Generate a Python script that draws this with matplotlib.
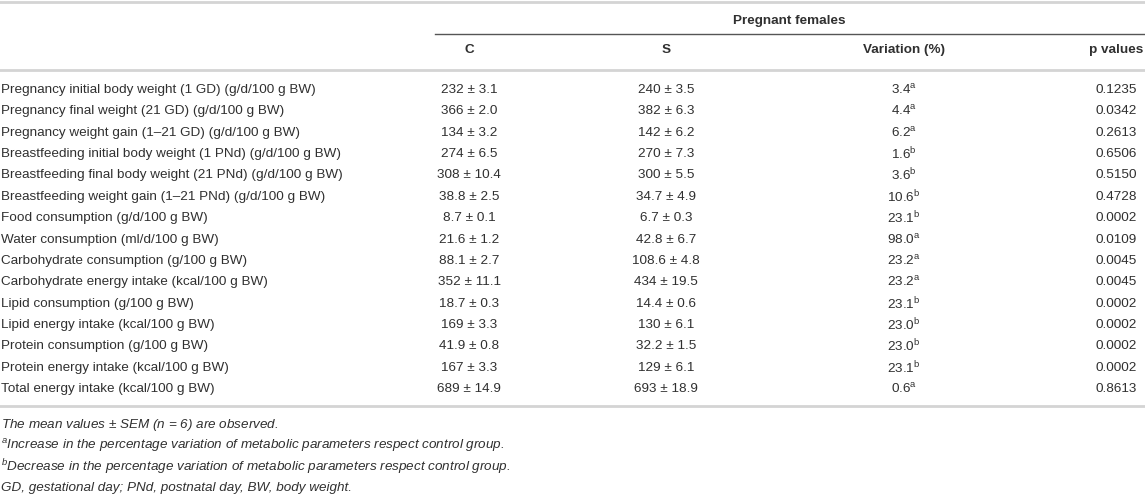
import matplotlib
matplotlib.use("Agg")
import matplotlib.pyplot as plt

plt.rcParams['font.family'] = ['Liberation Sans', 'DejaVu Sans']
plt.rcParams['mathtext.fontset'] = 'custom'
plt.rcParams['mathtext.rm'] = 'Liberation Sans'
plt.rcParams['mathtext.it'] = 'Liberation Sans:italic'

# table data
group_title = "Pregnant females"
col_heads = ["C", "S", "Variation (%)", "p values"]
row_labels = [
    "Pregnancy initial body weight (1 GD) (g/d/100 g BW)",
    "Pregnancy final weight (21 GD) (g/d/100 g BW)",
    "Pregnancy weight gain (1\u201321 GD) (g/d/100 g BW)",
    "Breastfeeding initial body weight (1 PNd) (g/d/100 g BW)",
    "Breastfeeding final body weight (21 PNd) (g/d/100 g BW)",
    "Breastfeeding weight gain (1\u201321 PNd) (g/d/100 g BW)",
    "Food consumption (g/d/100 g BW)",
    "Water consumption (ml/d/100 g BW)",
    "Carbohydrate consumption (g/100 g BW)",
    "Carbohydrate energy intake (kcal/100 g BW)",
    "Lipid consumption (g/100 g BW)",
    "Lipid energy intake (kcal/100 g BW)",
    "Protein consumption (g/100 g BW)",
    "Protein energy intake (kcal/100 g BW)",
    "Total energy intake (kcal/100 g BW)",
]
c_vals = ["232 \u00b1 3.1", "366 \u00b1 2.0", "134 \u00b1 3.2", "274 \u00b1 6.5",
          "308 \u00b1 10.4", "38.8 \u00b1 2.5", "8.7 \u00b1 0.1", "21.6 \u00b1 1.2",
          "88.1 \u00b1 2.7", "352 \u00b1 11.1", "18.7 \u00b1 0.3", "169 \u00b1 3.3",
          "41.9 \u00b1 0.8", "167 \u00b1 3.3", "689 \u00b1 14.9"]
s_vals = ["240 \u00b1 3.5", "382 \u00b1 6.3", "142 \u00b1 6.2", "270 \u00b1 7.3",
          "300 \u00b1 5.5", "34.7 \u00b1 4.9", "6.7 \u00b1 0.3", "42.8 \u00b1 6.7",
          "108.6 \u00b1 4.8", "434 \u00b1 19.5", "14.4 \u00b1 0.6", "130 \u00b1 6.1",
          "32.2 \u00b1 1.5", "129 \u00b1 6.1", "693 \u00b1 18.9"]
variation = ["3.4", "4.4", "6.2", "1.6", "3.6", "10.6", "23.1", "98.0",
             "23.2", "23.2", "23.1", "23.0", "23.0", "23.1", "0.6"]
var_mark = ["a", "a", "a", "b", "b", "b", "b", "a",
            "a", "a", "b", "b", "b", "b", "a"]
p_vals = ["0.1235", "0.0342", "0.2613", "0.6506", "0.5150", "0.4728", "0.0002",
          "0.0109", "0.0045", "0.0045", "0.0002", "0.0002", "0.0002", "0.0002",
          "0.8613"]
notes = [
    r"The mean values $\pm$ SEM (n = 6) are observed.",
    r"$^{a}$Increase in the percentage variation of metabolic parameters respect control group.",
    r"$^{b}$Decrease in the percentage variation of metabolic parameters respect control group.",
    "GD, gestational day; PNd, postnatal day, BW, body weight.",
]

W, H = 1145, 495
fig = plt.figure(figsize=(W / 100, H / 100), dpi=100)
ax = fig.add_axes([0, 0, 1, 1])
ax.set_xlim(0, W)
ax.set_ylim(H, 0)
ax.axis('off')

txt = '#303030'
rule = '#d4d4d4'
fs = 9.7

# rules
ax.plot([0, W], [2, 2], color=rule, lw=2)
ax.plot([435, W], [34, 34], color='#555555', lw=1)
ax.plot([0, W], [70, 70], color=rule, lw=2)
ax.plot([0, W], [406, 406], color=rule, lw=2)

col_x = [469, 666, 904, 1116]

ax.text(789, 21, group_title, ha='center', va='center', fontsize=fs,
        fontweight='bold', color=txt)
for x, h in zip(col_x, col_heads):
    ax.text(x, 50, h, ha='center', va='center', fontsize=fs,
            fontweight='bold', color=txt)

y0, dy = 90, 21.36
for i, lab in enumerate(row_labels):
    y = y0 + i * dy
    ax.text(1, y, lab, ha='left', va='center', fontsize=fs, color=txt)
    ax.text(col_x[0], y, c_vals[i], ha='center', va='center', fontsize=fs, color=txt)
    ax.text(col_x[1], y, s_vals[i], ha='center', va='center', fontsize=fs, color=txt)
    ax.text(col_x[2], y, variation[i] + r"$^{\mathregular{" + var_mark[i] + "}}$",
            ha='center', va='center', fontsize=fs, color=txt)
    ax.text(col_x[3], y, p_vals[i], ha='center', va='center', fontsize=fs, color=txt)

for j, n in enumerate(notes):
    ax.text(1, 425 + j * 21, n, ha='left', va='center', fontsize=fs,
            style='italic', color=txt)

fig.savefig('out.png', dpi=100)
